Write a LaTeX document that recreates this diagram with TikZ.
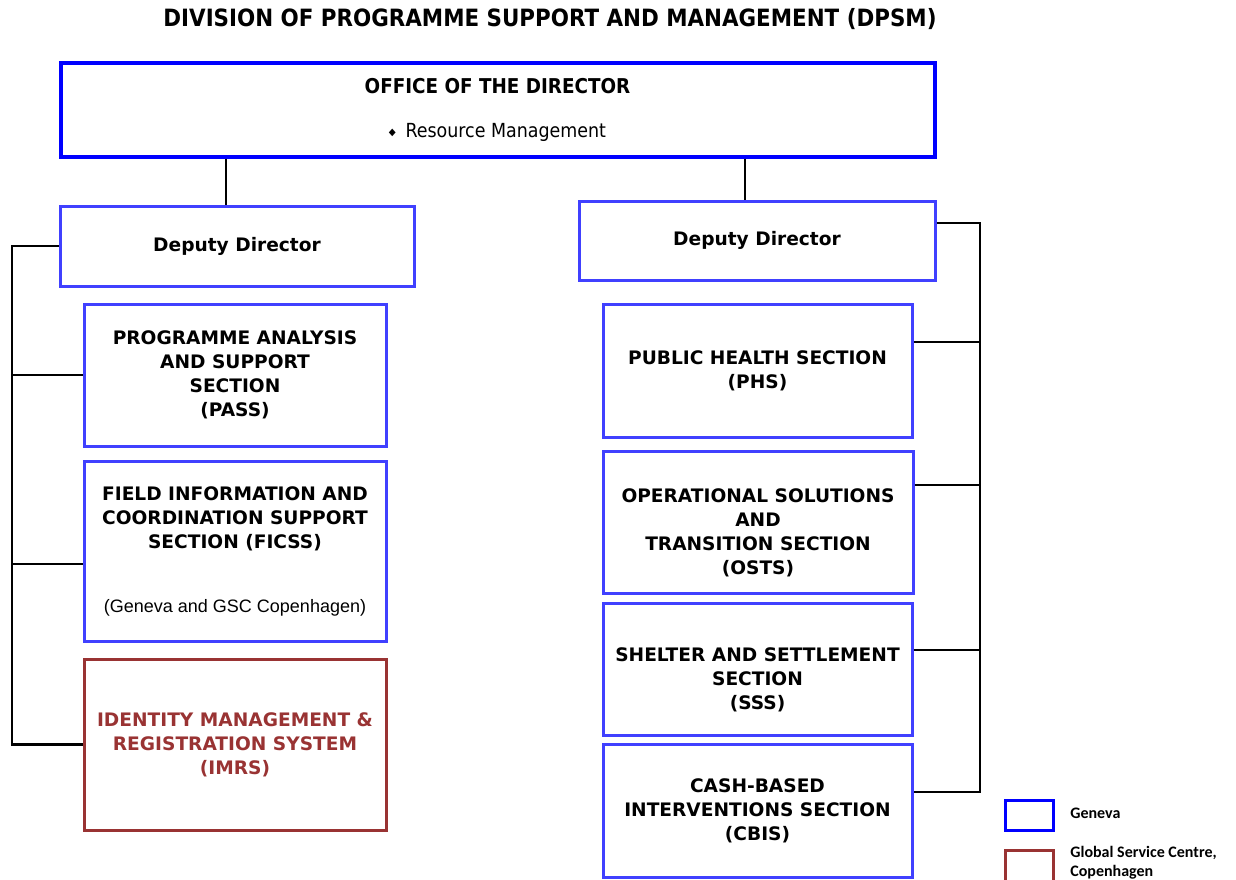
\documentclass[tikz,border=0pt]{standalone}
\usepackage{fontspec}
\setmainfont{DejaVu Sans}
\newfontfamily\condfont{DejaVu Sans Condensed}
\newfontfamily\arialfont{Liberation Sans}
\newfontfamily\legendfont{Carlito}
\definecolor{gva}{RGB}{0,0,255}
\definecolor{gvaline}{RGB}{64,64,255}
\definecolor{gsc}{RGB}{153,51,51}
\tikzset{
  unit/.style={draw=gvaline,line width=1.5pt,align=center,inner sep=2pt,
    font=\bfseries\fontsize{9.3}{12}\selectfont},
  gscunit/.style={unit,draw=gsc,text=gsc},
  link/.style={line width=1.2pt},
  legbox/.style={line width=1.5pt,minimum width=24pt,minimum height=15pt,inner sep=0pt},
  legtext/.style={anchor=west,align=left,inner sep=0pt,
    font=\legendfont\bfseries\fontsize{8}{9.5}\selectfont},
}
\begin{document}
\begin{tikzpicture}[x=0.5pt,y=-0.5pt]
  \useasboundingbox (0,0) rectangle (1236,879);
  \node[font=\condfont\bfseries\fontsize{11.9}{14}\selectfont] (title) at (550,19)
    {DIVISION OF PROGRAMME SUPPORT AND MANAGEMENT (DPSM)};
  % director
  \node[draw=gva,line width=2pt,minimum width=437pt,minimum height=47pt,align=center]
    (office) at (497.5,109.5)
    {{\condfont\bfseries\fontsize{10.2}{12}\selectfont OFFICE OF THE DIRECTOR}\\[10pt]
     {\condfont\fontsize{9.7}{12}\selectfont{\tiny\raisebox{1pt}{◆}}\enspace Resource Management}};
  \node[unit,minimum width=177pt,minimum height=40pt] (ddl) at (237,246) {Deputy Director};
  \node[unit,minimum width=178pt,minimum height=39.5pt] (ddr) at (757,240.5) {Deputy Director};
  % left column
  \node[unit,minimum width=151pt,minimum height=71pt] (pass) at (235,375)
    {PROGRAMME ANALYSIS\\AND SUPPORT\\SECTION\\(PASS)};
  \node[unit,minimum width=151pt,minimum height=90pt] (ficss) at (235,551)
    {FIELD INFORMATION AND\\COORDINATION SUPPORT\\SECTION (FICSS)\\[20pt]
     {\arialfont\mdseries\fontsize{9}{12}\selectfont(Geneva and GSC Copenhagen)}};
  \node[gscunit,minimum width=151pt,minimum height=85.5pt] (imrs) at (235,744.5)
    {IDENTITY MANAGEMENT \&\\REGISTRATION SYSTEM\\(IMRS)};
  % right column
  \node[unit,minimum width=154.5pt,minimum height=66.5pt] (phs) at (757.5,370.5)
    {PUBLIC HEALTH SECTION\\(PHS)};
  \node[unit,minimum width=155pt,minimum height=71pt] (osts) at (758,522)
    {\rule{0pt}{18pt}OPERATIONAL SOLUTIONS\\AND\\ TRANSITION SECTION\\(OSTS)};
  \node[unit,minimum width=154.5pt,minimum height=66pt] (sss) at (757.5,669)
    {\rule{0pt}{18pt}SHELTER AND SETTLEMENT\\SECTION\\(SSS)};
  \node[unit,minimum width=154.5pt,minimum height=66.5pt] (cbis) at (757.5,810.5)
    {CASH-BASED\\INTERVENTIONS SECTION\\(CBIS)};
  % connectors
  \draw[link] (office.south -| 226,0) -- (ddl.north -| 226,0);
  \draw[link] (office.south -| 745,0) -- (ddr.north -| 745,0);
  \coordinate (lsp) at (12,0);
  \coordinate (rsp) at (980,0);
  \draw[link] (ddl.west) -- (ddl.west -| lsp) -- (imrs.west -| lsp) -- (imrs.west);
  \draw[link] (pass.west) -- (pass.west -| lsp);
  \draw[link] (ficss.west |- 0,564) -- (lsp |- 0,564);
  \draw[link] (ddr.east |- 0,223) -- (rsp |- 0,223) -- (rsp |- 0,792) -- (cbis.east |- 0,792);
  \foreach \n/\y in {phs/342,osts/485,sss/650}
    \draw[link] (\n.east |- 0,\y) -- (rsp |- 0,\y);
  % legend
  \node[legbox,draw=gva] (leggva) at (1029,815) {};
  \node[legbox,draw=gsc,minimum height=16pt] (leggsc) at (1029,866) {};
  \node[legtext] (leggvatext) at (1070,813) {Geneva};
  \node[legtext] (leggsctext) at (1070,863) {Global Service Centre,\\Copenhagen};
\end{tikzpicture}
\end{document}
